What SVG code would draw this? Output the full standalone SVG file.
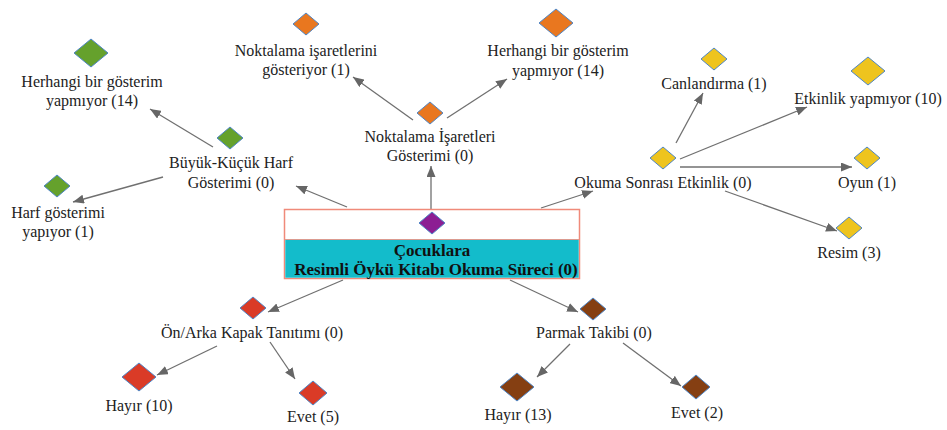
<svg xmlns="http://www.w3.org/2000/svg" width="947" height="430" viewBox="0 0 947 430">
<style>
text{font-family:"Liberation Serif","Times New Roman",serif;font-size:16px;fill:#222;text-anchor:middle}
.b{font-weight:bold;font-size:17px;fill:#111}
.d{stroke:#4F86C6;stroke-width:1}
.g{fill:#65A12C}.o{fill:#E9771F}.y{fill:#EEC41E}.r{fill:#DA3B27}.br{fill:#853F12}.p{fill:#8C1E93}
#edges line{stroke:#707070;stroke-width:1.3;marker-end:url(#ah)}
</style>
<defs>
<marker id="ah" markerUnits="userSpaceOnUse" markerWidth="12" markerHeight="9" refX="11" refY="4.5" orient="auto"><path d="M0,0 L11,4.5 L0,9 Z" fill="#666"/></marker>
</defs>
<rect width="947" height="430" fill="#fff"/>
<g id="edges">
<line x1="431" y1="209" x2="431" y2="166"/>
<line x1="347" y1="207" x2="296" y2="186"/>
<line x1="541" y1="208" x2="593" y2="191"/>
<line x1="413" y1="120" x2="353" y2="77"/>
<line x1="447" y1="118" x2="507" y2="79"/>
<line x1="213" y1="147" x2="150" y2="109"/>
<line x1="163" y1="177" x2="73" y2="202"/>
<line x1="676" y1="143" x2="703" y2="93"/>
<line x1="680" y1="159" x2="807" y2="107"/>
<line x1="680" y1="167" x2="852" y2="167"/>
<line x1="725" y1="191" x2="837" y2="231"/>
<line x1="343" y1="280" x2="268" y2="312"/>
<line x1="510" y1="280" x2="578" y2="312"/>
<line x1="217" y1="346" x2="157" y2="375"/>
<line x1="270" y1="342" x2="295" y2="379"/>
<line x1="570" y1="344" x2="537" y2="377"/>
<line x1="623" y1="343" x2="681" y2="386"/>
</g>
<g id="root">
<rect x="284.5" y="209.5" width="295" height="69" fill="#fff" stroke="#F08A7A" stroke-width="1.5"/>
<rect x="285.3" y="239.5" width="293.4" height="38.2" fill="#13BCCB"/>
<line x1="285" y1="239.5" x2="579" y2="239.5" stroke="#F08A7A" stroke-width="0.8"/>
<path class="d p" d="M432,212 L445,223 L432,234 L419,223 Z"/>
<text class="b" x="432" y="256">Çocuklara</text>
<text class="b" x="436" y="275">Resimli Öykü Kitabı Okuma Süreci (0)</text>
</g>
<g id="n-noktalama">
<path class="d o" d="M430,102 L443,113 L430,124 L417,113 Z"/>
<text x="430" y="142">Noktalama İşaretleri</text>
<text x="430" y="161">Gösterimi (0)</text>
</g>
<g id="n-noktalama-goster">
<path class="d o" d="M306,13 L319,24 L306,35 L293,24 Z"/>
<text x="306" y="56">Noktalama işaretlerini</text>
<text x="306" y="75">gösteriyor (1)</text>
</g>
<g id="n-noktalama-yok">
<path class="d o" d="M556,9 L573,23 L556,37 L539,23 Z"/>
<text x="558" y="56">Herhangi bir gösterim</text>
<text x="558" y="76">yapmıyor (14)</text>
</g>
<g id="n-buyuk">
<path class="d g" d="M230,127 L243,138 L230,149 L217,138 Z"/>
<text x="231" y="168">Büyük-Küçük Harf</text>
<text x="231" y="188">Gösterimi (0)</text>
</g>
<g id="n-harf-yok">
<path class="d g" d="M91,39 L108,53 L91,67 L74,53 Z"/>
<text x="92" y="87">Herhangi bir gösterim</text>
<text x="92" y="106">yapmıyor (14)</text>
</g>
<g id="n-harf-var">
<path class="d g" d="M57,175 L70,186 L57,197 L44,186 Z"/>
<text x="58" y="218">Harf gösterimi</text>
<text x="58" y="237">yapıyor (1)</text>
</g>
<g id="n-okuma">
<path class="d y" d="M663,147 L676,158 L663,169 L650,158 Z"/>
<text x="663" y="188">Okuma Sonrası Etkinlik (0)</text>
</g>
<g id="n-canlandirma">
<path class="d y" d="M714,48 L727,59 L714,70 L701,59 Z"/>
<text x="714" y="89">Canlandırma (1)</text>
</g>
<g id="n-etkinlik-yok">
<path class="d y" d="M868,57 L885,71 L868,85 L851,71 Z"/>
<text x="868" y="104">Etkinlik yapmıyor (10)</text>
</g>
<g id="n-oyun">
<path class="d y" d="M867,147 L880,158 L867,169 L854,158 Z"/>
<text x="867" y="188">Oyun (1)</text>
</g>
<g id="n-resim">
<path class="d y" d="M849,217 L862,228 L849,239 L836,228 Z"/>
<text x="849" y="258">Resim (3)</text>
</g>
<g id="n-kapak">
<path class="d r" d="M253,297 L266,308 L253,319 L240,308 Z"/>
<text x="252" y="338">Ön/Arka Kapak Tanıtımı (0)</text>
</g>
<g id="n-kapak-hayir">
<path class="d r" d="M139,363 L156,377 L139,391 L122,377 Z"/>
<text x="139" y="411">Hayır (10)</text>
</g>
<g id="n-kapak-evet">
<path class="d r" d="M313,381 L327,393 L313,405 L299,393 Z"/>
<text x="313" y="422">Evet (5)</text>
</g>
<g id="n-parmak">
<path class="d br" d="M593,298 L606,309 L593,320 L580,309 Z"/>
<text x="594" y="338">Parmak Takibi (0)</text>
</g>
<g id="n-parmak-hayir">
<path class="d br" d="M517,373 L534,387 L517,401 L500,387 Z"/>
<text x="518" y="420">Hayır (13)</text>
</g>
<g id="n-parmak-evet">
<path class="d br" d="M696,375 L710,387 L696,399 L682,387 Z"/>
<text x="697" y="418">Evet (2)</text>
</g>
</svg>
